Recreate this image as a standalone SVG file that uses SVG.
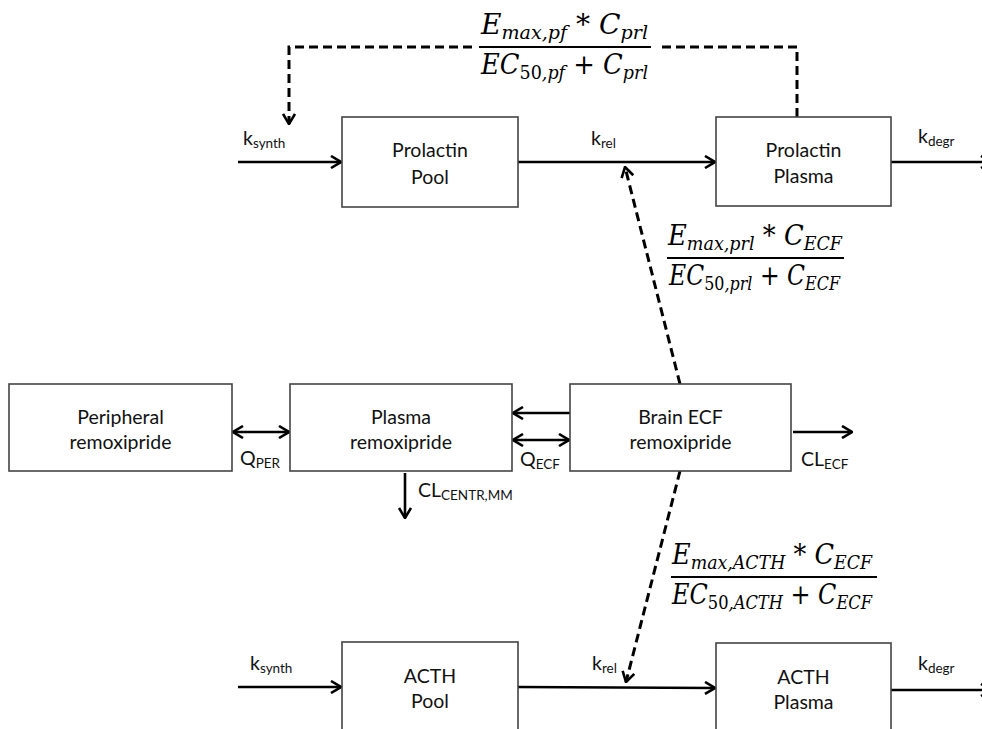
<svg xmlns="http://www.w3.org/2000/svg" width="982" height="729" viewBox="0 0 982 729">
<style>
.box{fill:#fff;stroke:#444;stroke-width:1.6}
.nt{font-family:Lato,"Liberation Sans",sans-serif;font-size:19.5px;fill:#111;text-anchor:middle}
.lb{font-family:Lato,"Liberation Sans",sans-serif;font-size:19.5px;fill:#111}
.sb{font-size:13.5px}
.ar{fill:none;stroke:#000;stroke-width:2.6}
.ds{fill:none;stroke:#000;stroke-width:3;stroke-dasharray:9 5}
.fm{font-family:"DejaVu Serif",serif;font-style:italic;font-size:28px;fill:#000}
.fs{font-size:19px}
.up{font-style:normal}
.bar{stroke:#000;stroke-width:2}
</style>
<defs>
<marker id="ah" viewBox="0 0 12 14" refX="11" refY="7" markerWidth="12" markerHeight="14" markerUnits="userSpaceOnUse" orient="auto-start-reverse">
<path d="M1,1 L11,7 L1,13" fill="none" stroke="#000" stroke-width="2.6" stroke-dasharray="none"/>
</marker>
</defs>
<rect width="982" height="729" fill="#fff"/>

<g id="connectors">
<path class="ar" d="M238,162 L341,162" marker-end="url(#ah)"/>
<path class="ar" d="M518,162 L715,162" marker-end="url(#ah)"/>
<path class="ar" d="M891,162 L991,162" marker-end="url(#ah)"/>
<path class="ds" d="M797,117 L797,47 L658,47"/>
<path class="ds" d="M472,47 L289,47 L289,124" marker-end="url(#ah)"/>
<path class="ds" d="M680,384 L625,167" marker-end="url(#ah)"/>
<path class="ar" d="M233,432 L289,432" marker-start="url(#ah)" marker-end="url(#ah)"/>
<path class="ar" d="M570,413 L513,413" marker-end="url(#ah)"/>
<path class="ar" d="M513,440 L569,440" marker-start="url(#ah)" marker-end="url(#ah)"/>
<path class="ar" d="M793,432 L852,432" marker-end="url(#ah)"/>
<path class="ar" d="M405,473 L405,518" marker-end="url(#ah)"/>
<path class="ds" d="M680,471 L626,682" marker-end="url(#ah)"/>
<path class="ar" d="M238,687 L341,687" marker-end="url(#ah)"/>
<path class="ar" d="M518,687 L715,688" marker-end="url(#ah)"/>
<path class="ar" d="M891,690 L991,690" marker-end="url(#ah)"/>

<text class="lb" x="243" y="145">k<tspan class="sb" dy="3">synth</tspan></text>
<text class="lb" x="591" y="145">k<tspan class="sb" dy="3">rel</tspan></text>
<text class="lb" x="918" y="143">k<tspan class="sb" dy="3">degr</tspan></text>
<text class="lb" x="240" y="465">Q<tspan class="sb" dy="3">PER</tspan></text>
<text class="lb" x="520" y="466">Q<tspan class="sb" dy="3">ECF</tspan></text>
<text class="lb" x="801" y="466">CL<tspan class="sb" dy="3">ECF</tspan></text>
<text class="lb" x="418" y="497">CL<tspan class="sb" dy="3">CENTR,MM</tspan></text>
<text class="lb" x="250" y="670">k<tspan class="sb" dy="3">synth</tspan></text>
<text class="lb" x="592" y="670">k<tspan class="sb" dy="3">rel</tspan></text>
<text class="lb" x="918" y="670">k<tspan class="sb" dy="3">degr</tspan></text>

<g id="formula-pf">
<text class="fm" x="481" y="34" textLength="167" lengthAdjust="spacingAndGlyphs">E<tspan class="fs" dy="5">max,pf</tspan><tspan class="up" dy="-5"> * </tspan><tspan>C</tspan><tspan class="fs" dy="5">prl</tspan></text>
<line class="bar" x1="479" y1="47" x2="651" y2="47"/>
<text class="fm" x="481" y="74" textLength="167" lengthAdjust="spacingAndGlyphs">EC<tspan class="fs up" dy="5">50</tspan><tspan class="fs">,pf</tspan><tspan class="up" dy="-5"> + </tspan><tspan>C</tspan><tspan class="fs" dy="5">prl</tspan></text>
</g>
<g id="formula-prl">
<text class="fm" x="668" y="245" textLength="174" lengthAdjust="spacingAndGlyphs">E<tspan class="fs" dy="5">max,prl</tspan><tspan class="up" dy="-5"> * </tspan><tspan>C</tspan><tspan class="fs" dy="5">ECF</tspan></text>
<line class="bar" x1="667" y1="258" x2="844" y2="258"/>
<text class="fm" x="669" y="285" textLength="171" lengthAdjust="spacingAndGlyphs">EC<tspan class="fs up" dy="5">50</tspan><tspan class="fs">,prl</tspan><tspan class="up" dy="-5"> + </tspan><tspan>C</tspan><tspan class="fs" dy="5">ECF</tspan></text>
</g>
<g id="formula-acth">
<text class="fm" x="672" y="564" textLength="200" lengthAdjust="spacingAndGlyphs">E<tspan class="fs" dy="5">max,ACTH</tspan><tspan class="up" dy="-5"> * </tspan><tspan>C</tspan><tspan class="fs" dy="5">ECF</tspan></text>
<line class="bar" x1="671" y1="577" x2="877" y2="577"/>
<text class="fm" x="672" y="604" textLength="200" lengthAdjust="spacingAndGlyphs">EC<tspan class="fs up" dy="5">50</tspan><tspan class="fs">,ACTH</tspan><tspan class="up" dy="-5"> + </tspan><tspan>C</tspan><tspan class="fs" dy="5">ECF</tspan></text>
</g>
</g>

<g id="prolactin-pool">
<rect class="box" x="342" y="117" width="176" height="90"/>
<text class="nt" x="430" y="157">Prolactin</text>
<text class="nt" x="430" y="184">Pool</text>
</g>
<g id="prolactin-plasma">
<rect class="box" x="716" y="117" width="175" height="89"/>
<text class="nt" x="803.5" y="157">Prolactin</text>
<text class="nt" x="803.5" y="183">Plasma</text>
</g>
<g id="peripheral-remoxipride">
<rect class="box" x="9" y="384" width="223" height="87"/>
<text class="nt" x="120.5" y="424">Peripheral</text>
<text class="nt" x="120.5" y="449">remoxipride</text>
</g>
<g id="plasma-remoxipride">
<rect class="box" x="290" y="384" width="222" height="87"/>
<text class="nt" x="401" y="424">Plasma</text>
<text class="nt" x="401" y="449">remoxipride</text>
</g>
<g id="brain-ecf-remoxipride">
<rect class="box" x="570" y="384" width="221" height="87"/>
<text class="nt" x="680.5" y="424">Brain ECF</text>
<text class="nt" x="680.5" y="449">remoxipride</text>
</g>
<g id="acth-pool">
<rect class="box" x="342" y="642" width="176" height="92"/>
<text class="nt" x="430" y="683">ACTH</text>
<text class="nt" x="430" y="708">Pool</text>
</g>
<g id="acth-plasma">
<rect class="box" x="716" y="643" width="175" height="92"/>
<text class="nt" x="803.5" y="684">ACTH</text>
<text class="nt" x="803.5" y="709">Plasma</text>
</g>
</svg>
